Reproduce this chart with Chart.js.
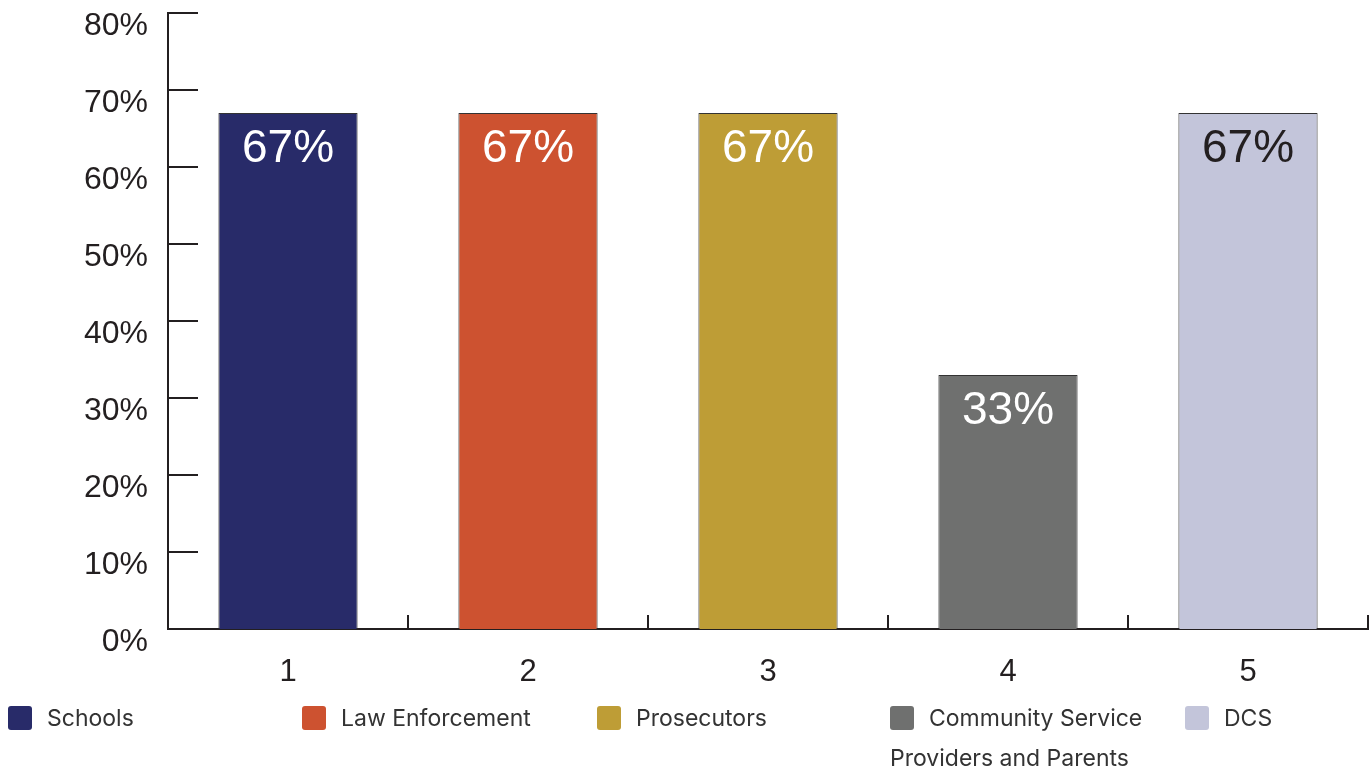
<!DOCTYPE html>
<html>
<head>
<meta charset="utf-8">
<script src="https://cdn.jsdelivr.net/npm/chart.js@4.4.0/dist/chart.umd.min.js"></script>
<style>
  html, body { margin: 0; padding: 0; background: #fff; }
  #wrap { position: relative; width: 1372px; height: 770px; }
  #legend { position: absolute; left: 8px; top: 698px; width: 1364px; font-family: Inter, "Noto Sans", sans-serif; font-size: 23px; color: #333; }
  .item { position: absolute; top: 0; width: 290px; line-height: 40px; }
  .box { display: inline-block; width: 24px; height: 24px; border-radius: 3px; vertical-align: -4px; margin-right: 15px; }
</style>
</head>
<body>
<div id="wrap">
  <canvas id="myChart" width="1372" height="770"></canvas>
  <div id="legend"></div>
</div>
<script>
const categories = ['1', '2', '3', '4', '5'];
const groups = ['Schools', 'Law Enforcement', 'Prosecutors', 'Community Service Providers and Parents', 'DCS'];
const values = [67, 67, 67, 33, 67];
const colors = ['#282b69', '#cd5230', '#be9d36', '#6f706f', '#c3c5da'];
const labelColors = ['#fff', '#fff', '#fff', '#fff', '#231f20'];
const yTicks = [0, 10, 20, 30, 40, 50, 60, 70, 80];

const axisColor = '#231f20';

// tick marks pointing into the plot area
const innerTicks = {
  id: 'innerTicks',
  afterDraw(chart) {
    const ctx = chart.ctx;
    const x = chart.scales.x, y = chart.scales.y;
    ctx.save();
    ctx.strokeStyle = axisColor;
    ctx.lineWidth = 2;
    ctx.beginPath();
    yTicks.forEach(v => {
      const py = y.getPixelForValue(v);
      ctx.moveTo(x.left, py);
      ctx.lineTo(x.left + 30, py);
    });
    for (let i = 1; i <= categories.length; i++) {
      const px = x.getPixelForValue(i - 0.5);
      ctx.moveTo(px, y.bottom);
      ctx.lineTo(px, y.bottom - 14);
    }
    ctx.stroke();
    ctx.restore();
  }
};

const barLabels = {
  id: 'barLabels',
  afterDatasetsDraw(chart) {
    const ctx = chart.ctx;
    const meta = chart.getDatasetMeta(0);
    ctx.save();
    ctx.font = '46px "Liberation Sans", Arial, sans-serif';
    ctx.textAlign = 'center';
    ctx.textBaseline = 'middle';
    meta.data.forEach((bar, i) => {
      ctx.fillStyle = labelColors[i];
      ctx.fillText(values[i] + '%', bar.x, bar.y + 36);
    });
    ctx.restore();
  }
};

const data = {
  labels: categories,
  datasets: [{
    data: values,
    backgroundColor: colors,
    borderColor: '#333333',
    borderWidth: 1,
    borderSkipped: 'bottom',
    barPercentage: 0.58,
    categoryPercentage: 1
  }]
};

const config = {
  type: 'bar',
  data: data,
  options: {
    responsive: false,
    animation: false,
    devicePixelRatio: 1,
    layout: { padding: { top: 13, right: 4, left: 0, bottom: 0 } },
    plugins: { legend: { display: false }, tooltip: { enabled: false } },
    scales: {
      x: {
        offset: true,
        grid: { display: false },
        border: { display: true, color: axisColor, width: 2 },
        ticks: { color: axisColor, padding: 17, font: { size: 31, family: '"Liberation Sans", Arial, sans-serif' } },
        afterFit(scale) { scale.height = 141; scale.paddingLeft = 0; scale.paddingRight = 0; }
      },
      y: {
        min: 0,
        max: 80,
        grid: { display: false },
        border: { display: true, color: axisColor, width: 2 },
        ticks: {
          stepSize: 10,
          color: axisColor,
          padding: 12,
          labelOffset: 13,
          font: { size: 32, family: '"Liberation Sans", Arial, sans-serif' },
          callback: v => v + '%'
        },
        afterFit(scale) { scale.width = 168; scale.paddingTop = 0; scale.paddingBottom = 0; }
      }
    }
  },
  plugins: [innerTicks, barLabels]
};

const myChart = new Chart(document.getElementById('myChart'), config);

// legend
const legendEl = document.getElementById('legend');
const lefts = [0, 294, 589, 882, 1177];
groups.forEach((g, i) => {
  const item = document.createElement('div');
  item.className = 'item';
  item.style.left = lefts[i] + 'px';
  item.innerHTML = '<span class="box" style="background:' + colors[i] + '"></span>' + g;
  legendEl.appendChild(item);
});
</script>
</body>
</html>
